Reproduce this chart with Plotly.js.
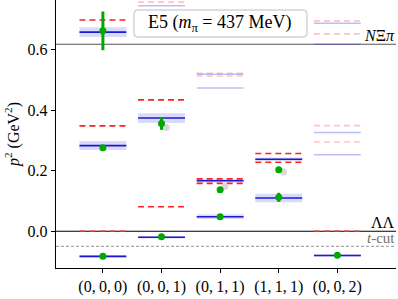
<!DOCTYPE html>
<html>
<head>
<meta charset="utf-8">
<script src="https://cdn.plot.ly/plotly-3.0.1.min.js"></script>
<style>
html,body{margin:0;padding:0;background:#fff;}
#chart{width:398px;height:299px;}
</style>
</head>
<body>
<div id="chart"></div>
<script>
// ---- data ----
const momenta = ['(0,0,0)', '(0,0,1)', '(0,1,1)', '(1,1,1)', '(0,0,2)'];

// non-interacting levels (red dashed), used
const freeCol = [0, 0, 0, 1, 1, 2, 2, 3, 3, 4];
const freeP2  = [0.0, 0.348, 0.698, 0.081, 0.434, 0.158, 0.173, 0.228, 0.257, 0.0];
// non-interacting levels, not used (faded)
const freeFadedCol = [1, 2, 2, 4, 4, 4, 4];
const freeFadedP2  = [0.757, 0.513, 0.522, 0.295, 0.349, 0.652, 0.695];

// fitted levels (blue) with uncertainty band
const fitCol = [0, 0, 0, 1, 1, 2, 2, 3, 3, 4];
const fitP2  = [-0.083, 0.283, 0.658, -0.020, 0.374, 0.048, 0.167, 0.110, 0.238, -0.080];
const fitErr = [0.004, 0.015, 0.016, 0.004, 0.016, 0.008, 0.006, 0.014, 0.006, 0.004];
// fitted levels, not used (faded)
const fitFadedCol = [1, 2, 2, 4, 4, 4, 4];
const fitFadedP2  = [0.745, 0.473, 0.519, 0.253, 0.326, 0.618, 0.687];

// lattice energies (green)
const latCol = [0, 0, 0, 1, 1, 2, 2, 3, 3, 4];
const latP2  = [-0.083, 0.276, 0.662, -0.018, 0.356, 0.048, 0.137, 0.112, 0.203, -0.079];
const latErr = [0.002, 0.008, 0.064, 0.002, 0.021, 0.004, 0.004, 0.015, 0.006, 0.002];

// alternative points (grey)
const altCol = [1, 2, 3];
const altP2  = [0.343, 0.148, 0.196];

// thresholds
const thrNames  = ['<i>N</i>Ξ<i>π</i>', 'ΛΛ', '<i>t</i>-cut'];
const thrValues = [0.618, 0.0, -0.050];

const titleText = 'E5 (<i>m</i><sub>π</sub> = 437 MeV)';

// ---- style ----
const HW = 0.4;           // half width of a level
const ALT_DX = 0.08;
const FONT = 'Liberation Serif, Times New Roman, serif';

function segs(cols, vals) {
  const x = [], y = [];
  cols.forEach((c, i) => { x.push(c - HW, c + HW, null); y.push(vals[i], vals[i], null); });
  return {x, y};
}
function bands(cols, vals, errs) {
  const x = [], y = [];
  cols.forEach((c, i) => {
    const v = vals[i], e = errs[i];
    x.push(c - HW, c + HW, c + HW, c - HW, c - HW, null);
    y.push(v - e, v - e, v + e, v + e, v - e, null);
  });
  return {x, y};
}

const traces = [];
const bnd = bands(fitCol, fitP2, fitErr);
traces.push({x: bnd.x, y: bnd.y, mode: 'lines', fill: 'toself', fillcolor: 'rgba(70,70,235,0.2)',
  line: {width: 0}, hoverinfo: 'skip'});
const ff = segs(freeFadedCol, freeFadedP2);
traces.push({x: ff.x, y: ff.y, mode: 'lines', line: {color: 'rgba(255,60,60,0.3)', width: 1.6, dash: '6px,4px'}});
const bf = segs(fitFadedCol, fitFadedP2);
traces.push({x: bf.x, y: bf.y, mode: 'lines', line: {color: 'rgba(40,40,220,0.3)', width: 1.5}});
const fr = segs(freeCol, freeP2);
traces.push({x: fr.x, y: fr.y, mode: 'lines', line: {color: '#ff2020', width: 1.6, dash: '6px,4px'}});
const bl = segs(fitCol, fitP2);
traces.push({x: bl.x, y: bl.y, mode: 'lines', line: {color: '#1a1ad0', width: 1.6}});
traces.push({x: altCol.map(c => c + ALT_DX), y: altP2, mode: 'markers',
  marker: {color: '#d8d8d8', size: 7, symbol: 'circle'}});
traces.push({x: latCol, y: latP2, mode: 'markers',
  marker: {color: '#00a800', size: 7},
  error_y: {type: 'data', array: latErr, visible: true, color: '#00a800', thickness: 3, width: 0}});

const shapes = thrValues.map((v, i) => ({
  type: 'line', xref: 'paper', yref: 'y', x0: 0, x1: 1, y0: v, y1: v, layer: 'below',
  line: i === 2 ? {color: '#a8a8a8', width: 1.2, dash: '3px,2px'}
                : {color: i === 0 ? '#555555' : '#000000', width: 1.1}
}));
// rounded title box (paper coords)
(function () {
  const x0 = 0.2294, x1 = 0.7382, y0 = 0.8621, y1 = 0.9627, rx = 0.013, ry = 0.017;
  const p = `M ${x0 + rx} ${y1} L ${x1 - rx} ${y1} Q ${x1} ${y1} ${x1} ${y1 - ry} L ${x1} ${y0 + ry} Q ${x1} ${y0} ${x1 - rx} ${y0} L ${x0 + rx} ${y0} Q ${x0} ${y0} ${x0} ${y0 + ry} L ${x0} ${y1 - ry} Q ${x0} ${y1} ${x0 + rx} ${y1} Z`;
  shapes.push({type: 'path', xref: 'paper', yref: 'paper', path: p, layer: 'above',
    fillcolor: 'rgba(255,255,255,0.9)', line: {color: '#d4d4d4', width: 1.5}});
})();

const thrAnchor = ['bottom', 'bottom', 'top'];
const thrShift  = [-1, -1, 2];
const thrSize   = [16, 16, 15];
const annotations = thrValues.map((v, i) => ({
  xref: 'paper', yref: 'y', x: 1.0, y: i === 2 ? 0 : v, xanchor: 'right', yanchor: thrAnchor[i],
  text: thrNames[i], showarrow: false, borderpad: 0,
  font: {family: FONT, size: thrSize[i], color: i === 2 ? '#707070' : '#000000'}, yshift: thrShift[i]
}));
annotations.push({xref: 'paper', yref: 'paper', x: 0.4838, y: 0.9124, xanchor: 'center', yanchor: 'middle',
  text: titleText, showarrow: false, font: {family: FONT, size: 18, color: '#000'}});

const layout = {
  width: 398, height: 299,
  margin: {l: 56, r: 2, t: 0, b: 31, pad: 0},
  paper_bgcolor: '#fff', plot_bgcolor: '#fff',
  showlegend: false,
  font: {family: FONT, color: '#000'},
  xaxis: {
    range: [-0.8, 5.0], showgrid: false, zeroline: false,
    showline: true, linecolor: '#000', linewidth: 1.2,
    tickmode: 'array', tickvals: momenta.map((m, i) => i),
    ticktext: momenta.map(m => m.replace(/,/g, ',\u2009')),
    ticks: 'outside', ticklen: 4, tickwidth: 1, tickcolor: '#000',
    tickfont: {family: FONT, size: 16, color: '#000'}
  },
  yaxis: {
    range: [-0.1215, 0.764], showgrid: false, zeroline: false,
    showline: true, linecolor: '#000', linewidth: 1.2,
    tickvals: [0, 0.2, 0.4, 0.6], tickformat: '.1f',
    ticks: 'outside', ticklen: 4, tickwidth: 1, tickcolor: '#000',
    tickfont: {family: FONT, size: 16, color: '#000'},
    title: {text: '<i>p</i><sup>2</sup> (GeV<sup>2</sup>)', font: {family: FONT, size: 16, color: '#000'}, standoff: 4}
  },
  shapes: shapes,
  annotations: annotations
};

Plotly.newPlot('chart', traces, layout, {displayModeBar: false, staticPlot: true});
</script>
</body>
</html>
